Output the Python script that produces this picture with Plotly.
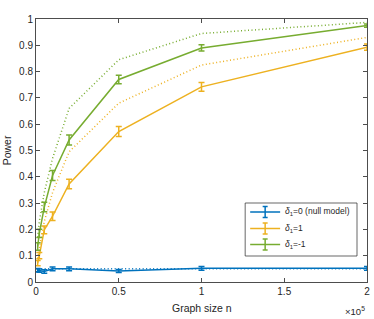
import plotly.graph_objects as go

n_vals = [1000, 2000, 5000, 10000, 20000, 50000, 100000, 200000]

power_null = [0.045, 0.043, 0.040, 0.050, 0.050, 0.042, 0.052, 0.052]
err_null = [0.006, 0.006, 0.007, 0.007, 0.007, 0.006, 0.007, 0.007]
power_pos = [0.072, 0.100, 0.198, 0.250, 0.373, 0.572, 0.742, 0.893]
err_pos = [0.010, 0.012, 0.015, 0.016, 0.018, 0.019, 0.017, 0.012]
power_neg = [0.135, 0.185, 0.285, 0.405, 0.540, 0.770, 0.890, 0.975]
err_neg = [0.014, 0.016, 0.018, 0.019, 0.019, 0.016, 0.012, 0.006]

ref_null = [0.050, 0.050, 0.050, 0.050, 0.050, 0.050, 0.050, 0.050]
ref_pos = [0.090, 0.130, 0.230, 0.340, 0.495, 0.680, 0.825, 0.930]
ref_neg = [0.170, 0.230, 0.340, 0.470, 0.660, 0.845, 0.945, 0.987]

x_tickvals = [0, 50000, 100000, 150000, 200000]
x_ticktext = ["0", "0.5", "1", "1.5", "2"]
y_tickvals = [0, 0.1, 0.2, 0.3, 0.4, 0.5, 0.6, 0.7, 0.8, 0.9, 1]
y_ticktext = ["0", "0.1", "0.2", "0.3", "0.4", "0.5", "0.6", "0.7", "0.8", "0.9", "1"]

labels = ["<i>δ</i><sub>1</sub>=0 (null model)", "<i>δ</i><sub>1</sub>=1", "<i>δ</i><sub>1</sub>=-1"]
colors = ["#0072BD", "#EDB120", "#77AC30"]

W, H = 374, 319
ML, MR, MT, MB = 35.5, 7, 19, 37
PW, PH = W - ML - MR, H - MT - MB


def px(x):
    return (x - ML) / PW


def py(y):
    return (H - MB - y) / PH


fig = go.Figure()

for ref, c in zip([ref_null, ref_pos, ref_neg], colors):
    fig.add_trace(go.Scatter(x=n_vals, y=ref, mode="lines",
                             line=dict(color=c, width=1.5, dash="1px,2.5px"),
                             showlegend=False, hoverinfo="skip"))

for p, e, c, lab in zip([power_null, power_pos, power_neg],
                        [err_null, err_pos, err_neg], colors, labels):
    fig.add_trace(go.Scatter(x=n_vals, y=p, mode="lines", name=lab,
                             line=dict(color=c, width=1.5), showlegend=False,
                             error_y=dict(type="data", array=e, visible=True,
                                          color=c, thickness=1.5, width=3)))

axis_col = "#4d4d4d"
txt_col = "#262626"

# manual legend (MATLAB style, with error-bar glyphs)
shapes = [dict(type="rect", xref="paper", yref="paper",
               x0=px(245), x1=px(357), y0=py(256), y1=py(203),
               line=dict(color=txt_col, width=0.7), fillcolor="white", layer="above")]
annotations = []
for i, (c, lab) in enumerate(zip(colors, labels)):
    yc = [212, 228.5, 244.5][i]
    shapes.append(dict(type="line", xref="paper", yref="paper",
                       x0=px(250), x1=px(280), y0=py(yc), y1=py(yc),
                       line=dict(color=c, width=1.5), layer="above"))
    shapes.append(dict(type="line", xref="paper", yref="paper",
                       x0=px(265), x1=px(265), y0=py(yc - 5.5), y1=py(yc + 5.5),
                       line=dict(color=c, width=1.5), layer="above"))
    for dy in (-5.5, 5.5):
        shapes.append(dict(type="line", xref="paper", yref="paper",
                           x0=px(262.5), x1=px(267.5), y0=py(yc + dy), y1=py(yc + dy),
                           line=dict(color=c, width=1.5), layer="above"))
    annotations.append(dict(text=lab, xref="paper", yref="paper",
                            x=px(283), y=py(yc), xanchor="left", yanchor="middle",
                            showarrow=False, font=dict(size=8.5, color=txt_col)))

annotations += [
    dict(text="Graph size n", xref="paper", yref="paper",
         x=0.5, y=-0.07, xanchor="center", yanchor="top",
         showarrow=False, font=dict(size=10.5, color=txt_col)),
    dict(text="Power", xref="paper", yref="paper", textangle=-90,
         x=-0.088, y=0.5, xanchor="center", yanchor="middle",
         showarrow=False, font=dict(size=10.5, color=txt_col)),
    dict(text="×10<sup>5</sup>", xref="paper", yref="paper",
         x=1.0, y=-0.08, xanchor="right", yanchor="top",
         showarrow=False, font=dict(size=9.5, color=txt_col)),
]

fig.update_layout(
    width=W, height=H,
    margin=dict(l=ML, r=MR, t=MT, b=MB, autoexpand=False),
    paper_bgcolor="white", plot_bgcolor="white",
    font=dict(family="Liberation Sans, Arial, sans-serif", size=10, color=txt_col),
    showlegend=False,
    xaxis=dict(range=[0, 200000], tickvals=x_tickvals, ticktext=x_ticktext,
               showgrid=False, zeroline=False, showline=True, mirror="ticks",
               linecolor=axis_col, linewidth=1, ticks="inside", ticklen=4,
               tickcolor=axis_col, automargin=False),
    yaxis=dict(range=[0, 1], tickvals=y_tickvals, ticktext=y_ticktext,
               showgrid=False, zeroline=False, showline=True, mirror="ticks",
               linecolor=axis_col, linewidth=1, ticks="inside", ticklen=4,
               tickcolor=axis_col, automargin=False),
    shapes=shapes,
    annotations=annotations,
)

fig.write_html("out.html", config={"displayModeBar": False},
               post_script="document.body.style.margin='0';")
